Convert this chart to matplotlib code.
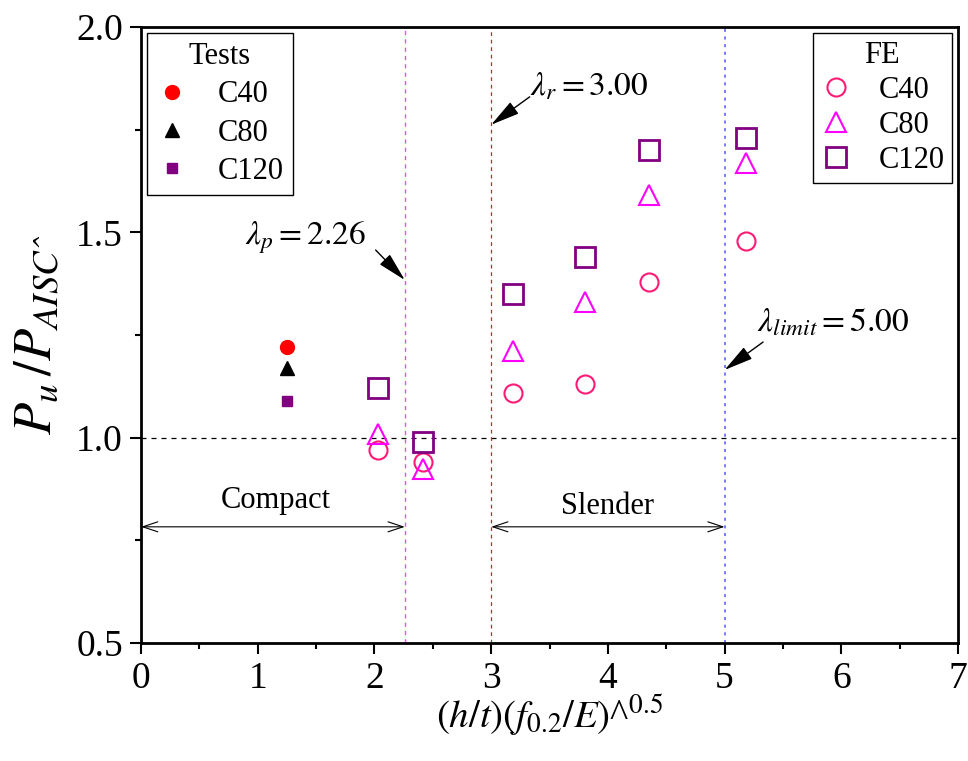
import matplotlib
matplotlib.use("Agg")
import matplotlib.pyplot as plt
from matplotlib.ticker import MultipleLocator
from matplotlib.lines import Line2D

plt.rcParams['font.family'] = ['Liberation Serif', 'DejaVu Serif']
plt.rcParams['mathtext.fontset'] = 'stix'

# Test data
test_x = [1.25]
test_c40 = [1.22]
test_c80 = [1.17]
test_c120 = [1.09]

# FE data
fe_x = [2.03, 2.42, 3.19, 3.80, 4.35, 5.18]
fe_c40 = [0.97, 0.94, 1.11, 1.13, 1.38, 1.48]
fe_c80 = [1.01, 0.925, 1.21, 1.33, 1.59, 1.67]
fe_c120 = [1.12, 0.99, 1.35, 1.44, 1.70, 1.73]

lam_p, lam_r, lam_lim = 2.26, 3.00, 5.00

fig = plt.figure(figsize=(9.68, 7.61), dpi=100)
ax = fig.add_axes([0.1457, 0.155, 0.844, 0.8095])

ax.set_xlim(0, 7)
ax.set_ylim(0.5, 2.0)

# reference lines
ax.axhline(1.0, color='black', ls=(0, (4, 4)), lw=0.9)
ax.axvline(lam_p, color='#ff44ff', ls=(0, (3, 3)), lw=1.0)
ax.axvline(lam_r, color='#cc2233', ls=(0, (3, 3)), lw=0.9)
ax.axvline(lam_lim, color='#5555ff', ls=(0, (2, 3)), lw=1.1)

# test markers
ax.plot(test_x, test_c40, 'o', color='red', ms=10, ls='none')
ax.plot(test_x, test_c80, '^', color='black', ms=10, ls='none')
ax.plot(test_x, test_c120, 's', color='purple', ms=7, ls='none')

# FE markers
ax.plot(fe_x, fe_c40, 'o', mfc='none', mec='#ff1a75', mew=1.5, ms=13, ls='none')
ax.plot(fe_x, fe_c80, '^', mfc='none', mec='#ff00ff', mew=1.5, ms=15, ls='none')
ax.plot(fe_x, fe_c120, 's', mfc='none', mec='purple', mew=2.0, ms=14, ls='none')

# region arrows
ya = 0.783
ax.annotate('', xy=(0, ya), xytext=(lam_p, ya),
            arrowprops=dict(arrowstyle='<->,head_length=0.6,head_width=0.2', color='black',
                            lw=0.8, mutation_scale=18, shrinkA=0, shrinkB=0))
ax.annotate('', xy=(lam_r, ya), xytext=(lam_lim, ya),
            arrowprops=dict(arrowstyle='<->,head_length=0.6,head_width=0.2', color='black',
                            lw=0.8, mutation_scale=18, shrinkA=0, shrinkB=0))
ax.text(1.15, 0.848, 'Compact', fontsize=22, ha='center', va='center')
ax.text(4.0, 0.832, 'Slender', fontsize=22, ha='center', va='center')

# lambda annotations
arrow_kw = dict(arrowstyle='-|>,head_length=0.9,head_width=0.22', color='black', lw=1.0,
                mutation_scale=20, shrinkA=0, shrinkB=0)
ax.annotate('', xy=(lam_p, 1.384), xytext=(2.01, 1.457), arrowprops=arrow_kw)
ax.text(1.405, 1.486, r'$\lambda_p = 2.26$', fontsize=24, ha='center', va='center')
ax.annotate('', xy=(lam_r, 1.762), xytext=(3.33, 1.83), arrowprops=arrow_kw)
ax.text(3.84, 1.854, r'$\lambda_r = 3.00$', fontsize=24, ha='center', va='center')
ax.annotate('', xy=(lam_lim, 1.165), xytext=(5.33, 1.233), arrowprops=arrow_kw)
ax.text(5.93, 1.279, r'$\lambda_{limit} = 5.00$', fontsize=24, ha='center', va='center')

# ticks
ax.xaxis.set_major_locator(MultipleLocator(1))
ax.xaxis.set_minor_locator(MultipleLocator(0.5))
ax.yaxis.set_major_locator(MultipleLocator(0.5))
ax.yaxis.set_minor_locator(MultipleLocator(0.25))
ax.tick_params(which='major', direction='out', length=8, width=1.5, labelsize=27, pad=5)
ax.tick_params(which='minor', direction='out', length=4, width=1.5)
for s in ax.spines.values():
    s.set_linewidth(2)

ax.set_xlabel(r'$(h/t)(f_{0.2}/E)$' + '^' + r'$^{0.5}$', fontsize=28, labelpad=-2)
ax.set_ylabel('$P_u\\,/P_{AISC\u02c6}$', fontsize=38, labelpad=10)

# legends
h_test = [Line2D([], [], marker='o', color='red', ls='none', ms=10),
          Line2D([], [], marker='^', color='black', ls='none', ms=10),
          Line2D([], [], marker='s', color='purple', ls='none', ms=7)]
leg1 = ax.legend(h_test, ['C40', 'C80', 'C120'], title='Tests', loc='upper left',
                 fontsize=22, title_fontsize=22, frameon=True, fancybox=False,
                 edgecolor='black', framealpha=1, borderaxespad=0.2,
                 handlelength=1.0, handletextpad=1.0, labelspacing=0.3,
                 borderpad=0.3)
leg1.get_frame().set_linewidth(1.0)
ax.add_artist(leg1)
h_fe = [Line2D([], [], marker='o', mfc='none', mec='#ff1a75', mew=1.5, ls='none', ms=13),
        Line2D([], [], marker='^', mfc='none', mec='#ff00ff', mew=1.5, ls='none', ms=15),
        Line2D([], [], marker='s', mfc='none', mec='purple', mew=2.0, ls='none', ms=14)]
leg2 = ax.legend(h_fe, ['C40', 'C80', 'C120'], title='FE', loc='upper right',
                 fontsize=22, title_fontsize=22, frameon=True, fancybox=False,
                 edgecolor='black', framealpha=1, borderaxespad=0.2,
                 handlelength=1.0, handletextpad=0.9, labelspacing=0.2,
                 borderpad=0.25)
leg2.get_frame().set_linewidth(1.0)

fig.savefig('out.png', dpi=100)
